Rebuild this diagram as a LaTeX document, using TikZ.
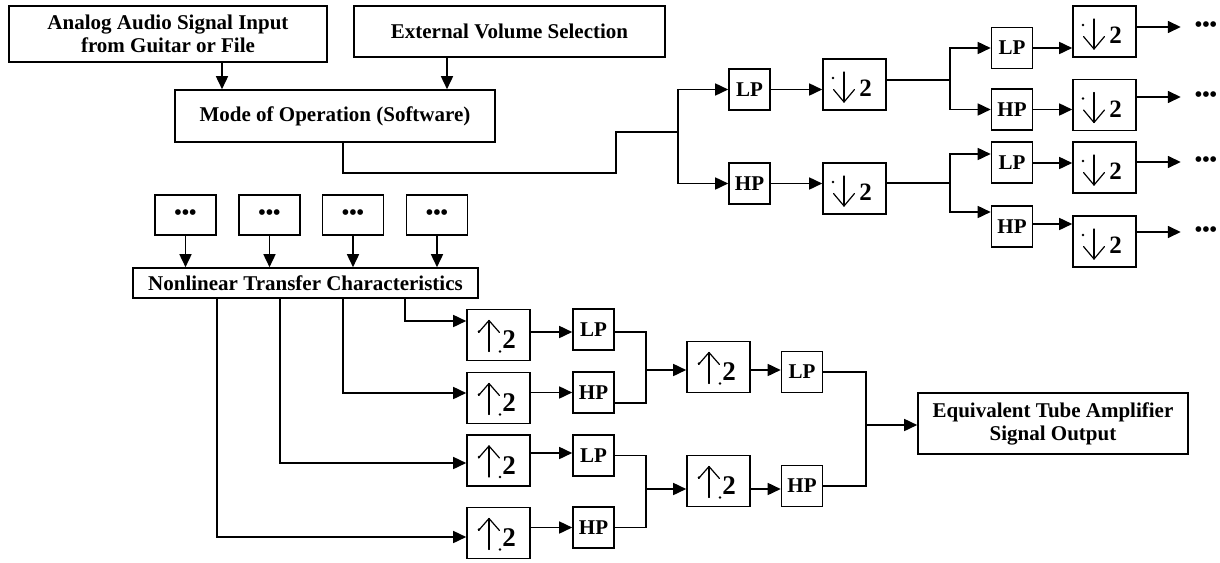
\documentclass[tikz,border=0pt]{standalone}
\usepackage{fontspec}
\setmainfont{Liberation Serif}
\usetikzlibrary{arrows.meta,calc}
\tikzset{
  blk/.style={draw, line width=1.6pt, inner sep=0pt, align=center, font=\bfseries\fontsize{21}{23}\selectfont},
  flt/.style={blk, minimum width=41pt, minimum height=41pt},
  smp/.style={blk, minimum width=63pt, minimum height=51pt},
  dotbox/.style={blk, minimum width=61pt, minimum height=40pt},
  wire/.style={line width=1.6pt},
  arr/.style={wire, -{Triangle[length=13pt,width=12pt]}},
  glyph/.style={line width=1.2pt, line cap=round, line join=round},
  twodn/.style={font=\bfseries\fontsize{25}{25}\selectfont, inner sep=0pt},
  twoup/.style={font=\bfseries\fontsize{27}{27}\selectfont, inner sep=0pt},
  ell/.style={font=\bfseries\fontsize{21}{21}\selectfont, inner sep=0pt, inner xsep=14pt},
}
\newcommand\dnsym[1]{%
  \draw[glyph] (#1.center) ++(-10.5,-12.5) -- ++(0,30);
  \draw[glyph] (#1.center) ++(-21,5) -- ++(10.5,12.5) -- ++(10.5,-12.5);
  \fill (#1.center) ++(-21.5,-6.5) circle[radius=1.4pt];
  \node[twodn] (#1-two) at ($(#1.center)+(11,4)$) {2};
}
\newcommand\upsym[1]{%
  \draw[glyph] (#1.center) ++(-9.5,16.5) -- ++(0,-31);
  \draw[glyph] (#1.center) ++(-20,-2.5) -- ++(10.5,-12) -- ++(10.5,12);
  \fill (#1.center) ++(-19.5,-3.5) circle[radius=1.4pt];
  \fill (#1.center) ++(1.5,16.5) circle[radius=1.4pt];
  \node[twoup] (#1-two) at ($(#1.center)+(10.5,5)$) {2};
}
\begin{document}
\begin{tikzpicture}[x=1pt,y=-1pt]
\useasboundingbox (0,0) rectangle (1220,562);

% ---- top input blocks
\node[blk, minimum width=318pt, minimum height=56pt] (A) at (168,34) {Analog Audio Signal Input\\from Guitar or File};
\node[blk, minimum width=311pt, minimum height=51pt] (B) at (509.5,31.5) {External Volume Selection};
\node[blk, minimum width=320pt, minimum height=52pt] (M) at (335,116) {Mode of Operation (Software)};
\coordinate (xa) at (222,0);
\coordinate (xb) at (447,0);
\draw[arr] (A.south -| xa) -- (M.north -| xa);
\draw[arr] (B.south -| xb) -- (M.north -| xb);

% ---- analysis tree
\node[flt] (LP1) at (749.5,89.5) {LP};
\node[flt] (HP1) at (749.5,183.5) {HP};
\node[smp] (D1) at (854.5,84.5) {};
\node[smp] (D2) at (854.5,188.5) {};
\node[flt] (LP3) at (1012,48) {LP};
\node[flt] (HP3) at (1012,109.5) {HP};
\node[flt] (LP4) at (1012,162.5) {LP};
\node[flt] (HP4) at (1012,226.5) {HP};
\node[smp] (D3) at (1104.5,31.5) {};
\node[smp] (D4) at (1104.5,105) {};
\node[smp] (D5) at (1104.5,167.5) {};
\node[smp] (D6) at (1104.5,241.5) {};
\foreach \d in {D1,D2,D3,D4,D5,D6} {\dnsym{\d}}
\node[ell] (E1) at (1206,27) {•••};
\node[ell] (E2) at (1206,97) {•••};
\node[ell] (E3) at (1206,162) {•••};
\node[ell] (E4) at (1206,232) {•••};

\coordinate (xm) at (343,0);
\coordinate (j1) at (616,173);
\coordinate (j2) at (678,132);
\draw[wire] (M.south -| xm) |- (j1) |- (j2);
\draw[arr] (j2) |- (LP1.west);
\draw[arr] (j2) |- (HP1.west);
\draw[arr] (LP1.east) -- (LP1.east -| D1.west);
\draw[arr] (HP1.east) -- (HP1.east -| D2.west);

\coordinate (j3) at (950,80);
\coordinate (j4) at (950,183);
\coordinate (y154) at (0,154);
\coordinate (y212) at (0,212);
\coordinate (y163) at (0,163);
\coordinate (y224) at (0,224);
\draw[wire] (D1.east |- j3) -- (j3);
\draw[arr] (j3) |- (LP3.west);
\draw[arr] (j3) |- (HP3.west);
\draw[wire] (D2.east |- j4) -- (j4);
\draw[arr] (j4) |- (LP4.west |- y154);
\draw[arr] (j4) |- (HP4.west |- y212);
\draw[arr] (LP3.east) -- (LP3.east -| D3.west);
\draw[arr] (HP3.east) -- (HP3.east -| D4.west);
\draw[arr] (LP4.east |- y163) -- (D5.west |- y163);
\draw[arr] (HP4.east |- y224) -- (D6.west |- y224);
\draw[arr] (D3.east |- E1.west) -- (E1.west);
\draw[arr] (D4.east |- E2.west) -- (E2.west);
\draw[arr] (D5.east |- E3.west) -- (E3.west);
\draw[arr] (D6.east |- E4.west) -- (E4.west);

% ---- synthesis part
\node[dotbox] (K1) at (185.5,215) {•••};
\node[dotbox] (K2) at (269.5,215) {•••};
\node[dotbox] (K3) at (353,215) {•••};
\node[dotbox] (K4) at (437,215) {•••};
\node[blk, minimum width=345pt, minimum height=30pt] (N) at (305.5,283) {Nonlinear Transfer Characteristics};
\foreach \k in {K1,K2,K3,K4} {\draw[arr] (\k.south) -- (\k.south |- N.north);}

\node[smp] (U1) at (498.5,335) {};
\node[smp] (U2) at (498.5,398) {};
\node[smp] (U3) at (498.5,460.5) {};
\node[smp] (U4) at (498.5,533) {};
\node[smp] (U5) at (718.5,367) {};
\node[smp] (U6) at (718.5,481) {};
\foreach \u in {U1,U2,U3,U4,U5,U6} {\upsym{\u}}
\node[flt] (LPa) at (593.5,329.5) {LP};
\node[flt] (HPa) at (593.5,392.5) {HP};
\node[flt] (LPb) at (593.5,455.5) {LP};
\node[flt] (HPb) at (593.5,527.5) {HP};
\node[flt] (LPc) at (802,372) {LP};
\node[flt] (HPc) at (802,486) {HP};
\node[blk, minimum width=270pt, minimum height=61pt] (Q) at (1053,423.5) {Equivalent Tube Amplifier\\Signal Output};

\coordinate (n1) at (405,321);
\coordinate (n2) at (343,393);
\coordinate (n3) at (280,463);
\coordinate (n4) at (217,537);
\draw[arr] (N.south -| n1) |- (U1.west |- n1);
\draw[arr] (N.south -| n2) |- (U2.west |- n2);
\draw[arr] (N.south -| n3) |- (U3.west |- n3);
\draw[arr] (N.south -| n4) |- (U4.west |- n4);

\coordinate (r1) at (0,332);
\coordinate (r2) at (0,403);
\coordinate (r3) at (0,453);
\draw[arr] (U1.east |- r1) -- (LPa.west |- r1);
\draw[arr] (U2.east |- HPa) -- (HPa.west);
\draw[arr] (U3.east |- r3) -- (LPb.west |- r3);
\draw[arr] (U4.east |- HPb) -- (HPb.west);

\coordinate (m1) at (646,370);
\coordinate (m2) at (646,489);
\draw[wire] (LPa.east |- r1) -| (m1) |- (HPa.east |- r2);
\draw[wire] (LPb.east) -| (m2) |- (HPb.east);
\draw[arr] (m1) -- (U5.west |- m1);
\draw[arr] (m2) -- (U6.west |- m2);
\draw[arr] (U5.east |- m1) -- (LPc.west |- m1);
\draw[arr] (U6.east |- m2) -- (HPc.west |- m2);

\coordinate (m3) at (866,425);
\draw[wire] (LPc.east) -| (m3) |- (HPc.east);
\draw[arr] (m3) -- (Q.west |- m3);
\end{tikzpicture}
\end{document}
